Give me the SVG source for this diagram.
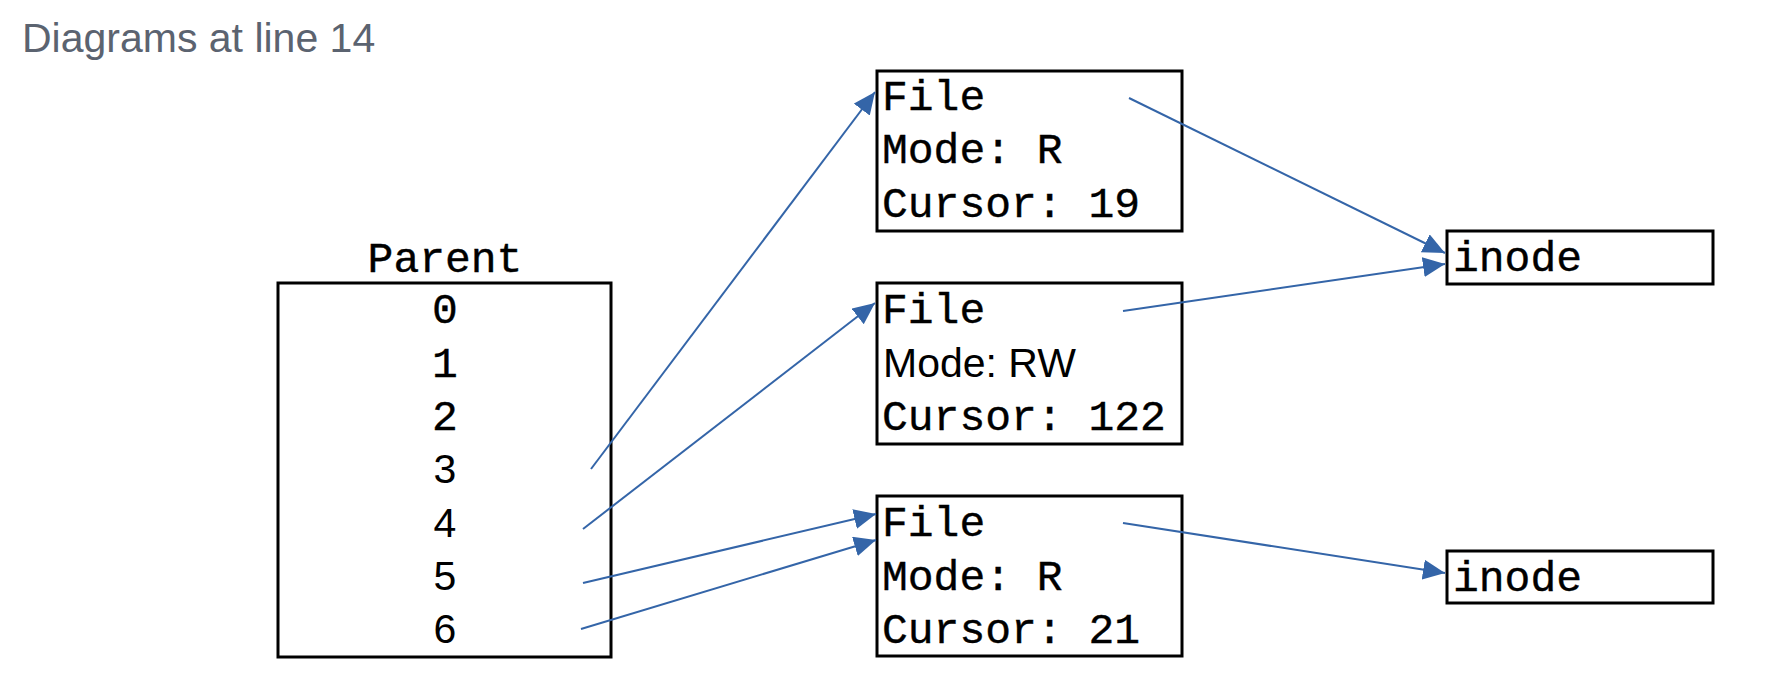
<svg xmlns="http://www.w3.org/2000/svg" width="1777" height="696" viewBox="0 0 1777 696">
<style>
.box{fill:#fff;stroke:#000;stroke-width:3}
.mono{font-family:"Liberation Mono","DejaVu Sans Mono",monospace;font-size:43px;fill:#000;stroke:#000;stroke-width:0.4}
.sans{font-family:"Liberation Sans",Arial,sans-serif;font-size:41px;fill:#000}
.title{font-family:"Liberation Sans",Arial,sans-serif;font-size:41px;fill:#5b6370}
.conn{stroke:#3465a8;stroke-width:2;fill:none;marker-end:url(#arr)}
</style>
<defs>
<marker id="arr" markerUnits="userSpaceOnUse" markerWidth="24" markerHeight="22" refX="22" refY="10" orient="auto">
<path d="M0,0 L22,10 L0,20 z" fill="#3465a8"/>
</marker>
</defs>
<rect width="1777" height="696" fill="#fff"/>
<text class="title" x="22" y="52">Diagrams at line 14</text>
<g id="parent">
<text class="mono" x="445" y="272" text-anchor="middle">Parent</text>
<rect class="box" x="278" y="283" width="333" height="374"/>
<text class="mono" x="445" y="323" text-anchor="middle">0</text>
<text class="mono" x="445" y="377" text-anchor="middle">1</text>
<text class="mono" x="445" y="430" text-anchor="middle">2</text>
<text class="sans" x="445" y="483" text-anchor="middle">3</text>
<text class="sans" x="445" y="537" text-anchor="middle">4</text>
<text class="sans" x="445" y="590" text-anchor="middle">5</text>
<text class="sans" x="445" y="643" text-anchor="middle">6</text>
</g>
<g id="file1">
<rect class="box" x="877" y="71" width="305" height="160"/>
<text class="mono" x="882" y="110">File</text>
<text class="mono" x="882" y="163">Mode: R</text>
<text class="mono" x="882" y="217">Cursor: 19</text>
</g>
<g id="file2">
<rect class="box" x="877" y="283" width="305" height="161"/>
<text class="mono" x="882" y="323">File</text>
<text class="sans" x="883" y="377">Mode: RW</text>
<text class="mono" x="882" y="430">Cursor: 122</text>
</g>
<g id="file3">
<rect class="box" x="877" y="496" width="305" height="160"/>
<text class="mono" x="882" y="536">File</text>
<text class="mono" x="882" y="590">Mode: R</text>
<text class="mono" x="882" y="643">Cursor: 21</text>
</g>
<g id="inode1">
<rect class="box" x="1447" y="231" width="266" height="53"/>
<text class="mono" x="1453" y="271">inode</text>
</g>
<g id="inode2">
<rect class="box" x="1447" y="551" width="266" height="52"/>
<text class="mono" x="1453" y="591">inode</text>
</g>
<g id="connectors">
<line class="conn" x1="591" y1="469" x2="875" y2="92"/>
<line class="conn" x1="583" y1="529" x2="875" y2="303"/>
<line class="conn" x1="583" y1="583" x2="876" y2="514"/>
<line class="conn" x1="581" y1="629" x2="876" y2="540"/>
<line class="conn" x1="1129" y1="98" x2="1445" y2="253"/>
<line class="conn" x1="1123" y1="311" x2="1445" y2="264"/>
<line class="conn" x1="1123" y1="523" x2="1445" y2="573"/>
</g>
</svg>
